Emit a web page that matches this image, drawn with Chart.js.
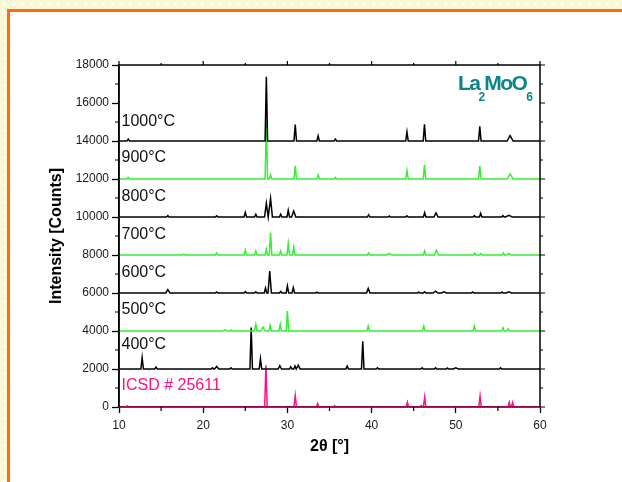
<!DOCTYPE html>
<html>
<head>
<meta charset="utf-8">
<script src="https://cdn.jsdelivr.net/npm/chart.js@4.4.1/dist/chart.umd.min.js"></script>
<style>
  html, body { margin: 0; padding: 0; }
  body {
    width: 622px; height: 482px; overflow: hidden; position: relative;
    background-color: #f8f8d6;
    background-image: radial-gradient(#ffffff 1px, transparent 1.5px);
    background-size: 9px 9px;
  }
  #frame {
    position: absolute; left: 7px; top: 9px; right: -20px; bottom: -20px;
    background: #fff; border-left: 3px solid #ff6c0a; border-top: 3px solid #ff6c0a;
  }
  #xrd { position: absolute; left: 0; top: 0; }
</style>
</head>
<body>
<div id="frame"></div>
<canvas id="xrd" width="622" height="482"></canvas>
<script>
const FONT = "'Liberation Sans', Arial, sans-serif";

// series, top to bottom (first one is drawn on top)
const seriesNames = ["1000°C", "900°C", "800°C", "700°C", "600°C", "500°C", "400°C", "ICSD # 25611"];
const offsets = [14000, 12000, 10000, 8000, 6000, 4000, 2000, 0];
const labelY = [15000, 13150, 11070, 9050, 7070, 5150, 3310, 1120];
const colors = ["#000000", "#33f033", "#000000", "#33f033", "#000000", "#33f033", "#000000", "#ff1088"];

// peaks: [2theta, height above baseline, optional half width]
const peaks1000 = [[11.1, 100], [27.5, 3380], [30.93, 860], [33.65, 270], [35.7, 100], [44.2, 480],
  [46.28, 880], [52.85, 770], [56.45, 290, 0.35]];
const peaks900 = [[11.1, 80], [27.5, 2950], [28.0, 220], [30.93, 700], [33.65, 210], [35.7, 80], [44.2, 440],
  [46.28, 740], [52.85, 690], [56.45, 280, 0.35]];
const peaks800 = [[15.8, 70], [21.6, 60], [25.0, 245], [26.25, 140], [27.5, 720, 0.22], [28.0, 980, 0.22],
  [29.2, 140], [30.1, 350], [30.75, 320, 0.25], [39.65, 120], [42.1, 50], [44.2, 60], [46.3, 230],
  [47.65, 220, 0.25], [52.2, 70], [52.95, 190], [55.6, 70], [56.3, 90, 0.4]];
const peaks700 = [[17.7, 40], [21.6, 110], [25.0, 260], [26.25, 210], [27.5, 300], [28.0, 1180], [29.2, 210],
  [30.1, 610], [30.75, 420], [39.65, 110], [42.1, 80, 0.3], [46.3, 210], [47.7, 260, 0.25], [52.25, 100],
  [53.0, 80], [55.65, 110], [56.3, 80, 0.3]];
const peaks600 = [[15.8, 180, 0.25], [21.6, 50], [25.0, 70], [26.25, 60], [27.4, 260], [27.9, 1160, 0.2],
  [29.2, 80], [30.0, 370], [30.7, 280], [33.5, 40], [39.6, 240, 0.2], [45.6, 50], [46.3, 60],
  [47.6, 100, 0.3], [48.6, 60, 0.3], [52.0, 50], [55.5, 50], [56.3, 60, 0.3]];
const peaks500 = [[22.6, 60, 0.3], [23.3, 50], [26.25, 350], [27.1, 210, 0.25], [27.95, 300], [29.15, 350],
  [30.0, 1050], [39.6, 260], [46.2, 260], [52.2, 260], [55.6, 170], [56.2, 120]];
const peaks400 = [[12.75, 600], [14.4, 100], [21.1, 60], [21.6, 130, 0.25], [23.3, 60], [25.7, 2180],
  [26.8, 540], [29.1, 180, 0.2], [30.4, 120], [30.9, 160], [31.3, 200, 0.2], [37.1, 150], [38.95, 1460],
  [40.7, 60], [46.0, 60], [47.6, 60], [49.0, 50], [50.0, 60, 0.3], [55.3, 60]];
const peaksICSD = [[11.0, 60], [27.45, 2200], [30.93, 600], [33.6, 180], [35.6, 70], [44.25, 250],
  [45.9, 80], [46.3, 520], [52.88, 580], [56.35, 250], [56.75, 240]];
const allPeaks = [peaks1000, peaks900, peaks800, peaks700, peaks600, peaks500, peaks400, peaksICSD];

// axis ticks
const xMinor = [15, 25, 35, 45, 55];
const xMajor = [10, 20, 30, 40, 50, 60];
const yMinor = [1000, 3000, 5000, 7000, 9000, 11000, 13000, 15000, 17000];
const yMajor = [0, 2000, 4000, 6000, 8000, 10000, 12000, 14000, 16000, 18000];

function buildLine(peaks, base) {
  const pts = [{x: 10, y: base}];
  peaks.forEach(p => {
    const w = p[2] || 0.15;
    pts.push({x: p[0] - w, y: base}, {x: p[0], y: base + p[1]}, {x: p[0] + w, y: base});
  });
  pts.push({x: 60, y: base});
  return pts;
}

const datasets = seriesNames.map((name, i) => ({
  label: name,
  data: buildLine(allPeaks[i], offsets[i]),
  borderColor: colors[i],
  borderWidth: 1.5,
  pointRadius: 0,
  tension: 0,
  fill: false
}));

// frame, extra ticks and text labels
const extras = {
  id: 'extras',
  afterDatasetsDraw(chart) {
    const ctx = chart.ctx;
    const a = chart.chartArea;
    const xs = chart.scales.x, ys = chart.scales.y;
    ctx.save();
    ctx.strokeStyle = '#000';
    ctx.lineWidth = 1.5;
    ctx.beginPath();
    ctx.moveTo(a.left, a.bottom);
    ctx.lineTo(a.left, a.top);
    ctx.lineTo(a.right, a.top);
    ctx.lineTo(a.right, a.bottom);
    ctx.stroke();
    // bottom axis under the ICSD baseline
    ctx.strokeStyle = 'rgba(120,0,60,0.6)';
    ctx.lineWidth = 2;
    ctx.beginPath();
    ctx.moveTo(a.left, a.bottom);
    ctx.lineTo(a.right, a.bottom);
    ctx.stroke();

    ctx.strokeStyle = '#000';
    ctx.lineWidth = 1.2;
    ctx.beginPath();
    xMinor.forEach(v => {
      const px = xs.getPixelForValue(v);
      ctx.moveTo(px, a.bottom); ctx.lineTo(px, a.bottom + 4);
      ctx.moveTo(px, a.top); ctx.lineTo(px, a.top - 2);
    });
    xMajor.forEach(v => {
      const px = xs.getPixelForValue(v);
      ctx.moveTo(px, a.top); ctx.lineTo(px, a.top - 4);
    });
    yMinor.forEach(v => {
      const py = ys.getPixelForValue(v);
      ctx.moveTo(a.left, py); ctx.lineTo(a.left - 4, py);
      ctx.moveTo(a.right, py); ctx.lineTo(a.right + 3, py);
    });
    yMajor.forEach(v => {
      const py = ys.getPixelForValue(v);
      ctx.moveTo(a.right, py); ctx.lineTo(a.right + 5, py);
    });
    ctx.stroke();

    ctx.font = '16px ' + FONT;
    ctx.textBaseline = 'middle';
    ctx.textAlign = 'left';
    seriesNames.forEach((name, i) => {
      ctx.fillStyle = i === 7 ? colors[7] : '#111';
      ctx.fillText(name, xs.getPixelForValue(10.3), ys.getPixelForValue(labelY[i]));
    });

    // compound name
    ctx.fillStyle = '#0b8686';
    ctx.textBaseline = 'alphabetic';
    let x = a.right - 82;
    const big = 'bold 21px ' + FONT, small = 'bold 12px ' + FONT;
    [['La', big, 90, -1.5, -1], ['2', small, 101, 0, -1], ['MoO', big, 90, -1.5, 0], ['6', small, 101, 0, 0]]
      .forEach(part => {
        ctx.font = part[1];
        ctx.letterSpacing = part[3] + 'px';
        ctx.fillText(part[0], x, part[2]);
        x += ctx.measureText(part[0]).width + part[4];
      });
    ctx.letterSpacing = '0px';
    ctx.restore();
  }
};

new Chart(document.getElementById('xrd'), {
  type: 'line',
  data: { datasets: datasets },
  options: {
    responsive: false,
    animation: false,
    events: [],
    layout: { padding: { left: 47, right: 82, top: 65, bottom: 26 } },
    plugins: { legend: { display: false }, tooltip: { enabled: false } },
    scales: {
      x: {
        type: 'linear', min: 10, max: 60,
        ticks: { stepSize: 10, color: '#1a1a1a', font: { family: FONT, size: 12 }, padding: 5, maxRotation: 0,
          callback: v => String(v) },
        grid: { drawOnChartArea: false, tickLength: 6, tickColor: '#000', tickWidth: 1.3 },
        border: { color: '#000', width: 1.5 },
        title: { display: true, text: '2θ [°]', color: '#000', padding: 0,
          font: { family: FONT, size: 16, weight: 'bold' } },
        afterFit: s => { s.height = 49; }
      },
      y: {
        min: 0, max: 18000,
        ticks: { stepSize: 2000, color: '#1a1a1a', font: { family: FONT, size: 12 }, padding: 3,
          callback: v => String(v) },
        grid: { drawOnChartArea: false, tickLength: 7, tickColor: '#000', tickWidth: 1.3 },
        border: { color: '#000', width: 1.5 },
        title: { display: true, text: 'Intensity [Counts]', color: '#000', padding: 0,
          font: { family: FONT, size: 16, weight: 'bold' } },
        afterFit: s => { s.width = 72; }
      }
    }
  },
  plugins: [extras]
});
</script>
</body>
</html>
